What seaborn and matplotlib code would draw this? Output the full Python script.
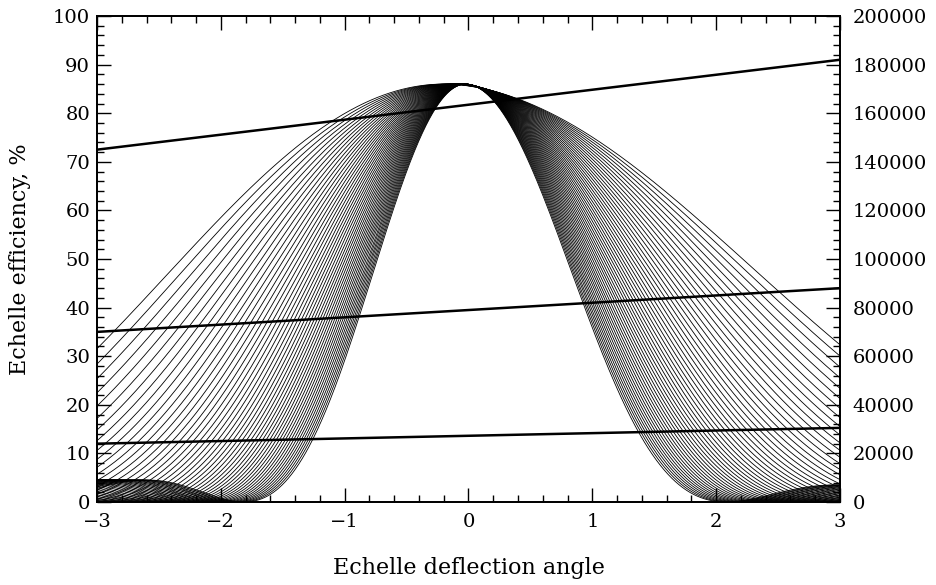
import numpy as np
import pandas as pd
import matplotlib
matplotlib.use("Agg")
import matplotlib.pyplot as plt
import seaborn as sns
from matplotlib.ticker import MultipleLocator

# ---- data ----
orders = list(range(25, 76))   # echelle orders drawn as blaze curves
peak_eff = 86.0                 # peak efficiency, %
tilt = 0.045                    # slope of the slow efficiency trend across the field
width_left = 136.0              # first zero (left side)  = -width_left / order
width_right = 156.0             # first zero (right side) =  width_right / order
res_x = [-3.0, 3.0]             # resolution lines, end points
res_high = [145000, 182000]
res_mid = [70000, 88000]
res_low = [24000, 30500]

sns.set_theme(style="ticks")
plt.rcParams["font.family"] = ["DejaVu Serif"]
plt.rcParams.update({"text.color": "black", "axes.labelcolor": "black",
                     "xtick.color": "black", "ytick.color": "black",
                     "axes.edgecolor": "black"})

angle = np.linspace(-3, 3, 2001)
rows = []
for m in orders:
    w = np.where(angle < 0, width_left / m, width_right / m)
    shape = (1 - tilt * angle) * np.sinc(angle / w) ** 2
    eff = peak_eff * shape / shape.max()
    rows.append(pd.DataFrame({"angle": angle, "eff": eff, "order": m}))
df = pd.concat(rows, ignore_index=True)

fig = plt.figure(figsize=(9.37, 5.85), dpi=100)
ax = fig.add_axes([0.1035, 0.1419, 0.793, 0.8307])
sns.lineplot(data=df, x="angle", y="eff", units="order", estimator=None,
             color="black", linewidth=0.6, ax=ax, legend=False)
ax.set_xlim(-3, 3)
ax.set_ylim(0, 100)
ax.set_xlabel("Echelle deflection angle", fontsize=16, labelpad=19)
ax.set_ylabel("Echelle efficiency, %", fontsize=16, labelpad=16)

ax2 = ax.twinx()
for vals in (res_high, res_mid, res_low):
    sns.lineplot(x=res_x, y=vals, color="black", linewidth=1.8, ax=ax2)
ax2.set_ylim(0, 200000)
ax2.set_ylabel("")

ax.xaxis.set_major_locator(MultipleLocator(1))
ax.xaxis.set_minor_locator(MultipleLocator(0.2))
ax.yaxis.set_major_locator(MultipleLocator(10))
ax.yaxis.set_minor_locator(MultipleLocator(2))
ax2.yaxis.set_major_locator(MultipleLocator(20000))
ax2.yaxis.set_minor_locator(MultipleLocator(4000))

ax.tick_params(which="both", direction="in", top=True, right=False,
               labelsize=14, pad=8, width=1.0, color="black")
ax.tick_params(axis="y", pad=5)
ax.tick_params(which="major", length=10)
ax.tick_params(which="minor", length=5)
ax2.tick_params(which="both", direction="in", labelsize=14, pad=9, width=1.0)
ax2.tick_params(which="major", length=10)
ax2.tick_params(which="minor", length=5)

for a in (ax, ax2):
    for s in a.spines.values():
        s.set_linewidth(1.3)
        s.set_color("black")

fig.savefig("out.png", dpi=100)
